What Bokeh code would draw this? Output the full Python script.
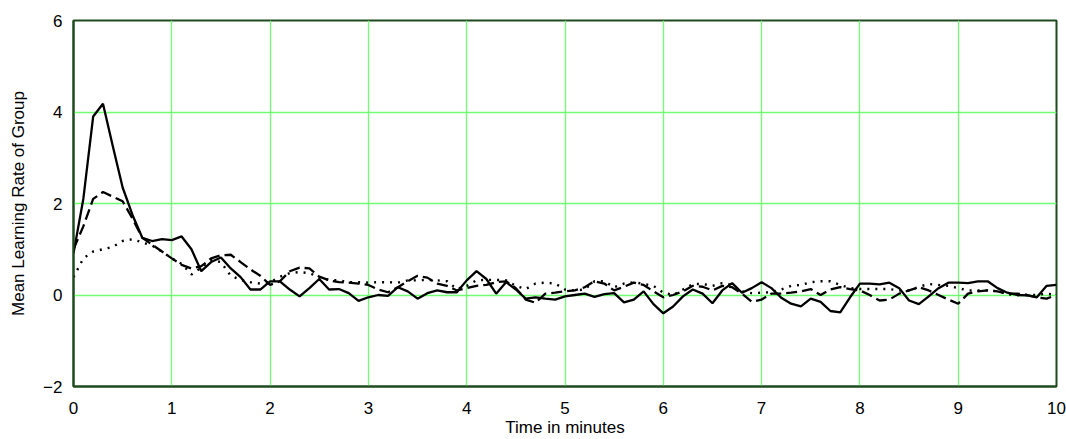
from bokeh.plotting import figure
from bokeh.models import Range1d, FixedTicker
from bokeh.embed import file_html
from bokeh.resources import INLINE

# time in minutes (sampled every 0.1 min)
time_min = [round(i * 0.1, 1) for i in range(101)]

solid_series = [
    0.91, 2.1, 3.9, 4.18, 3.25, 2.35, 1.75, 1.25, 1.18, 1.22,
    1.2, 1.28, 1.0, 0.52, 0.72, 0.82, 0.58, 0.39, 0.12, 0.12,
    0.3, 0.3, 0.12, -0.03, 0.15, 0.35, 0.12, 0.13, 0.04, -0.13,
    -0.05, 0.0, -0.02, 0.17, 0.08, -0.08, 0.04, 0.1, 0.06, 0.06,
    0.32, 0.52, 0.35, 0.03, 0.28, 0.12, -0.08, -0.05, -0.08, -0.1,
    -0.03, 0.0, 0.03, -0.04, 0.02, 0.04, -0.16, -0.1, 0.08, -0.2,
    -0.4, -0.25, -0.03, 0.12, 0.03, -0.18, 0.1, 0.26, 0.05, 0.15,
    0.28, 0.15, -0.06, -0.19, -0.25, -0.08, -0.15, -0.35, -0.38, -0.05,
    0.25, 0.25, 0.23, 0.27, 0.15, -0.12, -0.2, -0.03, 0.15, 0.27,
    0.27, 0.26, 0.3, 0.3, 0.15, 0.05, 0.0, -0.01, -0.05, 0.2,
    0.22,
]

dashed_series = [
    1.0, 1.5, 2.1, 2.25, 2.15, 2.05, 1.67, 1.25, 1.1, 0.95,
    0.8, 0.66, 0.58, 0.63, 0.8, 0.87, 0.88, 0.72, 0.56, 0.42,
    0.22, 0.3, 0.52, 0.6, 0.58, 0.4, 0.32, 0.28, 0.27, 0.25,
    0.22, 0.12, 0.06, 0.17, 0.3, 0.42, 0.38, 0.25, 0.2, 0.1,
    0.15, 0.2, 0.22, 0.28, 0.3, 0.15, -0.1, -0.17, 0.03, 0.05,
    0.08, 0.1, 0.17, 0.3, 0.25, 0.1, 0.18, 0.27, 0.22, 0.08,
    -0.05, 0.0, 0.08, 0.2, 0.18, 0.1, 0.2, 0.17, 0.03, -0.15,
    -0.1, 0.03, 0.03, 0.05, 0.08, 0.13, 0.0, 0.12, 0.17, 0.13,
    0.1, 0.0, -0.12, -0.1, 0.03, 0.1, 0.17, 0.1, 0.0, -0.1,
    -0.19, 0.03, 0.08, 0.1, 0.08, 0.03, 0.03, 0.0, -0.05, -0.08,
    0.0,
]

dotted_series = [
    0.39, 0.8, 0.95, 1.0, 1.05, 1.18, 1.22, 1.15, 1.08, 0.95,
    0.8, 0.68, 0.45, 0.6, 0.76, 0.72, 0.42, 0.33, 0.28, 0.25,
    0.28, 0.4, 0.48, 0.5, 0.48, 0.38, 0.33, 0.32, 0.28, 0.28,
    0.27, 0.28, 0.28, 0.27, 0.32, 0.32, 0.33, 0.32, 0.3, 0.13,
    0.2, 0.32, 0.33, 0.33, 0.32, 0.2, 0.13, 0.25, 0.27, 0.25,
    0.12, 0.1, 0.12, 0.3, 0.3, 0.17, 0.25, 0.28, 0.24, 0.2,
    0.05, 0.0, 0.12, 0.24, 0.24, 0.2, 0.26, 0.22, 0.08, 0.04,
    0.05, 0.06, 0.12, 0.2, 0.22, 0.28, 0.3, 0.3, 0.22, 0.15,
    0.13, 0.13, 0.13, 0.13, 0.1, 0.1, 0.18, 0.24, 0.22, 0.2,
    0.15, 0.1, 0.1, 0.1, 0.08, 0.02, 0.0, 0.0, 0.0, 0.03,
    0.0,
]

x_ticks = [0, 1, 2, 3, 4, 5, 6, 7, 8, 9, 10]
y_ticks = [-2, 0, 2, 4, 6]
y_tick_labels = {-2: "\u22122", 0: "0", 2: "2", 4: "4", 6: "6"}

FONT = "Liberation Sans"
BORDER = "#1f4a1f"
GRID = "#70ff70"

p = figure(width=1066, height=439, output_backend="svg", toolbar_location=None,
           x_range=Range1d(0, 10), y_range=Range1d(-2, 6),
           min_border_left=73, min_border_right=10, min_border_top=20,
           min_border_bottom=53)
p.background_fill_color = "white"
p.border_fill_color = "white"
p.outline_line_color = BORDER
p.outline_line_width = 2

p.xaxis.ticker = FixedTicker(ticks=x_ticks)
p.yaxis.ticker = FixedTicker(ticks=y_ticks)
p.yaxis.major_label_overrides = y_tick_labels

for ax in (p.xaxis, p.yaxis):
    ax.axis_line_color = BORDER
    ax.axis_line_width = 2
    ax.major_tick_line_color = None
    ax.minor_tick_line_color = None
    ax.major_label_text_font = FONT
    ax.major_label_text_font_size = "17px"
    ax.major_label_text_color = "black"
    ax.axis_label_text_font = FONT
    ax.axis_label_text_font_size = "17px"
    ax.axis_label_text_font_style = "normal"
    ax.axis_label_text_color = "black"

p.xaxis.axis_label = "Time in minutes"
p.yaxis.axis_label = "Mean Learning Rate of Group"
p.xaxis.major_label_standoff = 9
p.xaxis.axis_label_standoff = 1
p.yaxis.major_label_standoff = 5
p.yaxis.axis_label_standoff = 12

p.xgrid.grid_line_color = GRID
p.ygrid.grid_line_color = GRID
p.xgrid.grid_line_width = 1.3
p.ygrid.grid_line_width = 1.3

p.line(time_min, dotted_series, line_color="black", line_width=2.4, line_dash="2 6")
p.line(time_min, dashed_series, line_color="black", line_width=2.3, line_dash="11 5")
p.line(time_min, solid_series, line_color="black", line_width=2.3)

open("out.html", "w").write(file_html(p, INLINE))
